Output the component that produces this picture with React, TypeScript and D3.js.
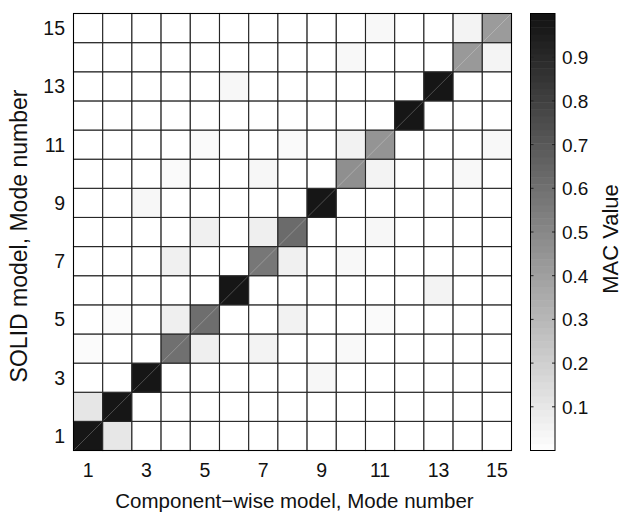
import React, { useEffect, useRef } from 'react';
import * as d3 from 'd3';

// mode numbers on both axes
const modes = [1, 2, 3, 4, 5, 6, 7, 8, 9, 10, 11, 12, 13, 14, 15];
const tickModes = [1, 3, 5, 7, 9, 11, 13, 15];
const barTicks = [0.1, 0.2, 0.3, 0.4, 0.5, 0.6, 0.7, 0.8, 0.9];

// MAC values, one row per SOLID mode (row 1 = mode 1), columns = component-wise modes
const macValues = [
  [0.98, 0.10, 0, 0, 0, 0, 0, 0, 0, 0, 0, 0, 0, 0, 0],
  [0.105, 0.98, 0, 0, 0, 0, 0, 0, 0, 0, 0, 0, 0, 0, 0],
  [0, 0, 0.98, 0, 0, 0, 0, 0, 0.035, 0, 0, 0, 0, 0, 0],
  [0.017, 0, 0, 0.60, 0.067, 0, 0.05, 0, 0, 0.025, 0, 0, 0, 0, 0],
  [0, 0.017, 0, 0.067, 0.61, 0, 0, 0.055, 0, 0, 0.02, 0, 0, 0, 0],
  [0, 0, 0, 0, 0, 0.98, 0, 0, 0, 0, 0, 0, 0.05, 0, 0],
  [0, 0, 0, 0.063, 0, 0, 0.57, 0.063, 0, 0.03, 0, 0, 0, 0, 0],
  [0, 0, 0, 0, 0.063, 0, 0.067, 0.62, 0, 0, 0.035, 0, 0, 0, 0],
  [0, 0, 0.034, 0, 0, 0, 0, 0, 0.98, 0, 0, 0, 0, 0, 0],
  [0, 0, 0, 0.02, 0, 0, 0.034, 0, 0, 0.47, 0.05, 0, 0, 0.03, 0],
  [0, 0, 0, 0, 0.02, 0, 0, 0.02, 0, 0.055, 0.45, 0, 0, 0, 0.03],
  [0, 0, 0, 0, 0, 0, 0, 0, 0, 0, 0, 0.98, 0, 0, 0],
  [0, 0, 0, 0, 0, 0.034, 0, 0, 0, 0, 0, 0, 0.98, 0, 0],
  [0, 0, 0, 0, 0, 0, 0, 0, 0, 0.03, 0, 0, 0, 0.43, 0.045],
  [0, 0, 0, 0, 0, 0, 0, 0, 0, 0, 0.03, 0, 0, 0.05, 0.42],
];

const FONT = 'Liberation Sans, Arial, sans-serif';

function MacChart() {
  const ref = useRef<SVGSVGElement>(null);

  useEffect(() => {
    const svg = d3.select(ref.current);
    svg.selectAll('*').remove();

    const left = 73.5, right = 511.5, top = 13.5, bottom = 450.5;

    const x = d3.scaleBand<number>().domain(modes).range([left, right]);
    const y = d3.scaleBand<number>().domain(modes).range([bottom, top]);
    const color = d3.scaleLinear<string>().domain([0, 1])
      .range(['#ffffff', '#111111']).interpolate(d3.interpolateRgb);

    const cells = macValues.flatMap((row, i) =>
      row.map((v, j) => ({ row: modes[i], col: modes[j], v })));

    const g = svg.append('g');
    g.selectAll('rect.cell')
      .data(cells)
      .join('rect')
      .attr('class', 'cell')
      .attr('x', d => x(d.col)!)
      .attr('y', d => y(d.row)!)
      .attr('width', x.bandwidth())
      .attr('height', y.bandwidth())
      .attr('fill', d => color(d.v))
      .attr('stroke', '#262626')
      .attr('stroke-width', 1.1);

    // faint diagonal seam seen in the rendered surface cells
    g.selectAll('line.seam')
      .data(cells.filter(d => d.v > 0.2))
      .join('line')
      .attr('x1', d => x(d.col)! + 1)
      .attr('y1', d => y(d.row)! + y.bandwidth() - 1)
      .attr('x2', d => x(d.col)! + x.bandwidth() - 1)
      .attr('y2', d => y(d.row)! + 1)
      .attr('stroke', d => d3.interpolateRgb(color(d.v), '#ffffff')(0.3))
      .attr('stroke-width', 0.8);

    svg.append('rect')
      .attr('x', left).attr('y', top)
      .attr('width', right - left).attr('height', bottom - top)
      .attr('fill', 'none').attr('stroke', '#000').attr('stroke-width', 1);

    // tick labels
    svg.append('g').selectAll('text')
      .data(tickModes)
      .join('text')
      .attr('x', d => x(d)! + x.bandwidth() / 2)
      .attr('y', 477)
      .attr('text-anchor', 'middle')
      .attr('font-family', FONT).attr('font-size', 19.5).attr('fill', '#111')
      .text(d => d);

    svg.append('g').selectAll('text')
      .data(tickModes)
      .join('text')
      .attr('x', 65)
      .attr('y', d => y(d)! + y.bandwidth() / 2 + 7)
      .attr('text-anchor', 'end')
      .attr('font-family', FONT).attr('font-size', 19.5).attr('fill', '#111')
      .text(d => d);

    svg.append('text')
      .attr('x', (left + right) / 2 + 2)
      .attr('y', 508)
      .attr('text-anchor', 'middle')
      .attr('font-family', FONT).attr('font-size', 20.5).attr('fill', '#111')
      .text('Component\u2212wise model, Mode number');

    svg.append('text')
      .attr('transform', `translate(27,236) rotate(-90)`)
      .attr('text-anchor', 'middle')
      .attr('font-family', FONT).attr('font-size', 23).attr('fill', '#111')
      .text('SOLID model, Mode number');

    // colorbar
    const cbLeft = 530.5, cbRight = 555;
    const cy = d3.scaleLinear().domain([0, 1]).range([bottom, top]);
    const steps = d3.range(64).map(i => i / 64);
    svg.append('g').selectAll('rect')
      .data(steps)
      .join('rect')
      .attr('x', cbLeft)
      .attr('width', cbRight - cbLeft)
      .attr('y', d => cy(d + 1 / 64))
      .attr('height', cy(0) - cy(1 / 64) + 0.5)
      .attr('fill', d => color(d + 0.5 / 64));

    svg.append('g').selectAll('path')
      .data(barTicks)
      .join('path')
      .attr('d', d => `M${cbLeft},${cy(d)}h3M${cbRight},${cy(d)}h-3`)
      .attr('stroke', '#222').attr('stroke-width', 1);

    svg.append('rect')
      .attr('x', cbLeft).attr('y', top)
      .attr('width', cbRight - cbLeft).attr('height', bottom - top)
      .attr('fill', 'none').attr('stroke', '#000').attr('stroke-width', 1);

    svg.append('g').selectAll('text')
      .data(barTicks)
      .join('text')
      .attr('x', 562)
      .attr('y', d => cy(d) + 7)
      .attr('font-family', FONT).attr('font-size', 19).attr('fill', '#111')
      .text(d => d.toFixed(1));

    svg.append('text')
      .attr('transform', `translate(618,239) rotate(-90)`)
      .attr('text-anchor', 'middle')
      .attr('font-family', FONT).attr('font-size', 22).attr('fill', '#111')
      .text('MAC Value');
  }, []);

  return (
    <svg ref={ref} width={625} height={518}
      style={{ position: 'absolute', left: 0, top: 0, background: '#fff' }} />
  );
}

export default function App() {
  return <MacChart />;
}
